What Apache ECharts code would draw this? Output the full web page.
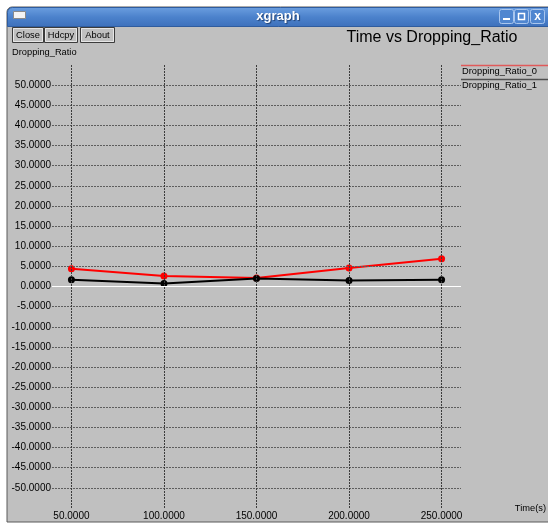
<!DOCTYPE html>
<html>
<head>
<meta charset="utf-8">
<script src="https://cdn.jsdelivr.net/npm/echarts@6/dist/echarts.min.js"></script>
<style>
  html, body { margin: 0; padding: 0; background: #ffffff; }
  #main { width: 548px; height: 524px; }
</style>
</head>
<body>
<div id="main"></div>
<script>
// Simulation output: dropping ratio per flow over time
const times = [50, 100, 150, 200, 250];
const ratio0 = [4.4, 2.6, 2.1, 4.6, 6.9];
const ratio1 = [1.7, 0.75, 2.0, 1.5, 1.7];
const seriesNames = ['Dropping_Ratio_0', 'Dropping_Ratio_1'];
const seriesColors = ['#ff0000', '#000000'];
const legendLineColors = ['#e05a5a', '#505050'];

const xTicks = [50, 100, 150, 200, 250];
const yTicks = [-50, -45, -40, -35, -30, -25, -20, -15, -10, -5, 0, 5, 10, 15, 20, 25, 30, 35, 40, 45, 50];

const chartTitle = 'Time vs Dropping_Ratio';
const yName = 'Dropping_Ratio';
const xName = 'Time(s)';
const windowTitle = 'xgraph';
const buttonLabels = ['Close', 'Hdcpy', 'About'];

const GRAY = '#c0c0c0';
const FONT = '"Liberation Sans", Arial, sans-serif';

function fmt(v) { return Number(v).toFixed(4); }

const hDotted = { color: '#5e5e5e', width: 1, type: [2, 1] };
const vDotted = { color: '#3c3c3c', width: 1, type: [2, 1] };

const gridLines = []
  .concat(yTicks.filter(v => v !== 0).map(v => ({ yAxis: v, lineStyle: hDotted })))
  .concat(xTicks.map(v => ({ xAxis: v, lineStyle: vDotted })))
  .concat([{ yAxis: 0, lineStyle: { color: '#ffffff', width: 1, type: 'solid' } }]);

// window chrome
const buttonBoxes = [[12, 31], [44, 33], [80, 34]];
const chrome = [
  { type: 'rect', z: -20, shape: { x: 7, y: 7, width: 560, height: 515, r: [5, 0, 0, 0] },
    style: { fill: GRAY, stroke: '#5a5a5a', lineWidth: 1 } },
  { type: 'rect', z: -19, shape: { x: 7.5, y: 7.5, width: 560, height: 19, r: [5, 0, 0, 0] },
    style: { fill: new echarts.graphic.LinearGradient(0, 0, 0, 1, [
      { offset: 0, color: '#6c9fe0' }, { offset: 0.5, color: '#4c82cc' }, { offset: 1, color: '#3d70bb' }
    ]), stroke: '#2f5c9e', lineWidth: 1 } },
  { type: 'rect', z: -18, shape: { x: 13.5, y: 11.5, width: 12, height: 7 },
    style: { fill: '#f4f4f4', stroke: '#8a8a8a', lineWidth: 1 } },
  { type: 'text', z: -18, x: 278, y: 16,
    style: { text: windowTitle, font: 'bold 13px ' + FONT, fill: '#ffffff', align: 'center',
      verticalAlign: 'middle', textShadowColor: '#1f3f70', textShadowBlur: 1, textShadowOffsetX: 1, textShadowOffsetY: 1 } }
];

// title bar buttons
[[499, 'min'], [514, 'max'], [530, 'close']].forEach(([bx, kind]) => {
  chrome.push({ type: 'rect', z: -18, shape: { x: bx + 0.5, y: 9.5, width: 14, height: 14, r: 2 },
    style: { fill: '#4f86d0', stroke: '#a9c6ee', lineWidth: 1 } });
  if (kind === 'min') {
    chrome.push({ type: 'rect', z: -17, shape: { x: bx + 4, y: 18, width: 7, height: 2 }, style: { fill: '#ffffff' } });
  } else if (kind === 'max') {
    chrome.push({ type: 'rect', z: -17, shape: { x: bx + 4.5, y: 13.5, width: 6, height: 6 },
      style: { fill: 'none', stroke: '#ffffff', lineWidth: 1.5 } });
  } else {
    chrome.push({ type: 'text', z: -17, x: bx + 7.5, y: 17,
      style: { text: 'x', font: 'bold 12px ' + FONT, fill: '#ffffff', align: 'center', verticalAlign: 'middle' } });
  }
});

buttonLabels.forEach((lbl, i) => {
  const [bx, bw] = buttonBoxes[i];
  chrome.push({ type: 'rect', z: -18, shape: { x: bx + 0.5, y: 27.5, width: bw, height: 15 },
    style: { fill: GRAY, stroke: '#3c3c3c', lineWidth: 1 } });
  chrome.push({ type: 'rect', z: -18, shape: { x: bx + 1.5, y: 28.5, width: bw - 2, height: 13 },
    style: { fill: 'none', stroke: '#e6e6e6', lineWidth: 1 } });
  chrome.push({ type: 'text', z: -17, x: bx + 0.5 + bw / 2, y: 35.5,
    style: { text: lbl, font: '9.3px ' + FONT, fill: '#000000', align: 'center', verticalAlign: 'middle' } });
});

// headings and axis names
chrome.push({ type: 'text', z: 10, x: 432, y: 38,
  style: { text: chartTitle, font: '16px ' + FONT, fill: '#000000', align: 'center', verticalAlign: 'middle' } });
chrome.push({ type: 'text', z: 10, x: 12, y: 52,
  style: { text: yName, font: '9.3px ' + FONT, fill: '#000000', align: 'left', verticalAlign: 'middle' } });
chrome.push({ type: 'text', z: 10, x: 546, y: 508,
  style: { text: xName, font: '9.3px ' + FONT, fill: '#000000', align: 'right', verticalAlign: 'middle' } });

// legend entries: line above each name
seriesNames.forEach((name, i) => {
  const ly = 65.5 + i * 14;
  chrome.push({ type: 'line', z: 10, shape: { x1: 461, y1: ly, x2: 548, y2: ly },
    style: { stroke: legendLineColors[i], lineWidth: 1.5 } });
  chrome.push({ type: 'text', z: 10, x: 462, y: ly + 6,
    style: { text: name, font: '9.3px ' + FONT, fill: '#000000', align: 'left', verticalAlign: 'middle' } });
});

const chart = echarts.init(document.getElementById('main'), null, { renderer: 'canvas' });

chart.setOption({
  animation: false,
  backgroundColor: '#ffffff',
  textStyle: { fontFamily: FONT },
  grid: { left: 52, top: 65, width: 409, height: 443, containLabel: false },
  xAxis: {
    type: 'value', min: 39.5, max: 260.5,
    axisLine: { show: false }, axisTick: { show: false }, splitLine: { show: false },
    axisLabel: { customValues: xTicks, formatter: fmt, color: '#000000', fontSize: 10, margin: 3 }
  },
  yAxis: {
    type: 'value', min: -55, max: 55,
    axisLine: { show: false }, axisTick: { show: false }, splitLine: { show: false },
    axisLabel: { customValues: yTicks, formatter: fmt, color: '#000000', fontSize: 10, margin: 1 }
  },
  graphic: { elements: chrome },
  series: [
    {
      name: 'grid', type: 'line', z: 1, silent: true,
      data: [[times[0], 0]], symbol: 'none', lineStyle: { opacity: 0 },
      markLine: { silent: true, symbol: 'none', label: { show: false }, data: gridLines }
    },
    {
      name: seriesNames[0], type: 'line', z: 3,
      data: times.map((t, i) => [t, ratio0[i]]),
      symbol: 'circle', symbolSize: 7, showSymbol: true,
      itemStyle: { color: seriesColors[0] }, lineStyle: { color: seriesColors[0], width: 2 }
    },
    {
      name: seriesNames[1], type: 'line', z: 4,
      data: times.map((t, i) => [t, ratio1[i]]),
      symbol: 'circle', symbolSize: 7, showSymbol: true,
      itemStyle: { color: seriesColors[1] }, lineStyle: { color: seriesColors[1], width: 2 }
    }
  ]
});
</script>
</body>
</html>
